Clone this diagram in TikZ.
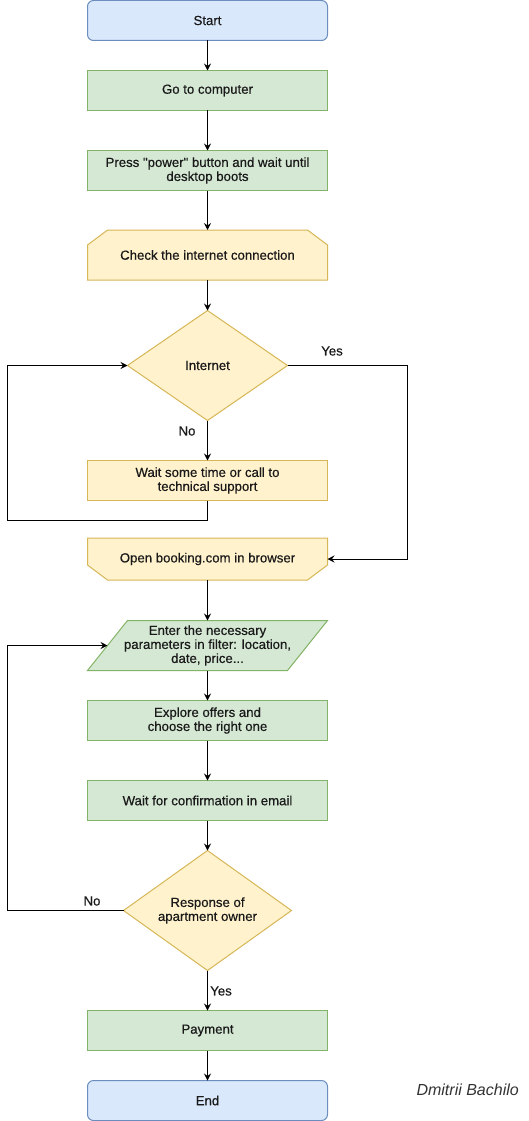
\documentclass[tikz,border=0pt]{standalone}
\usepackage{fontspec}
\setmainfont{Liberation Sans}
\newfontfamily\lblfont[FakeBold=0.5]{Liberation Sans}
\usetikzlibrary{arrows.meta,calc,backgrounds,shapes.geometric}
\definecolor{bfill}{HTML}{DAE8FC}\definecolor{bdraw}{HTML}{6C8EBF}
\definecolor{gfill}{HTML}{D5E8D4}\definecolor{gdraw}{HTML}{82B366}
\definecolor{yfill}{HTML}{FFF2CC}\definecolor{ydraw}{HTML}{D6B656}
\definecolor{txt}{HTML}{1A1A1A}
\definecolor{authorc}{HTML}{333333}
\begin{document}
\begin{tikzpicture}[x=1pt,y=-1pt,
  base/.style={font=\lblfont\fontsize{13.2}{14}\selectfont, text=txt, align=center, inner sep=0pt, outer sep=0pt, line width=1pt},
  term/.style={base, draw=bdraw, fill=bfill, rounded corners=6pt, minimum width=240pt, minimum height=40pt},
  proc/.style={base, draw=gdraw, fill=gfill, minimum width=240pt, minimum height=40pt},
  yproc/.style={base, draw=ydraw, fill=yfill, minimum width=240pt, minimum height=40pt},
  shapebox/.style={base, minimum width=240pt},
  decision/.style={base, diamond, aspect=1.4, draw=ydraw, fill=yfill},
  yshape/.style={draw=ydraw, fill=yfill, line width=1pt},
  gshape/.style={draw=gdraw, fill=gfill, line width=1pt},
  conn/.style={line width=1pt, draw=black, -{Stealth[length=7pt,width=7pt,inset=2.5pt]}},
  lbl/.style={font=\lblfont\fontsize{13.2}{14}\selectfont, text=txt, inner sep=0pt}
]
\useasboundingbox (0,0) rectangle (528,1121);

\node[term] (start) at (207.5,20.5) {Start};
\node[proc] (go) at (207.5,90.5) {Go to computer};
\node[proc] (press) at (207.5,170.5) {Press "power" button and wait until\\desktop boots};
\node[shapebox, minimum height=50pt] (check) at (207.5,255) {Check the internet connection};
\node[decision, minimum width=160pt, minimum height=110pt] (inet) at (207.5,365.5) {Internet};
\node[yproc] (wait) at (207.5,480.5) {Wait some time or call to\\technical support};
\node[shapebox, minimum height=42pt] (book) at (207.5,559) {Open booking.com in browser};
\node[shapebox, minimum height=50pt] (enter) at (207.5,645.5) {Enter the necessary\\parameters in filter: location,\\date, price...};
\node[proc] (explore) at (207.5,720.5) {Explore offers and\\choose the right one};
\node[proc] (confirm) at (207.5,800.5) {Wait for confirmation in email};
\node[decision, minimum width=168pt, minimum height=120pt] (resp) at (207.5,910.5) {Response of\\apartment owner};
\node[proc] (pay) at (207.5,1030.5) {Payment};
\node[term] (end) at (207.5,1100.5) {End};

\node[font=\fontsize{16}{18}\selectfont\itshape, text=authorc, anchor=east, inner sep=0pt] (author) at (519,1090) {Dmitrii Bachilo};

\begin{scope}[on background layer]
  \filldraw[yshape] ($(check.north west)+(20,0)$) -- ($(check.north east)+(-20,0)$) -- ($(check.north east)+(0,15)$) -- (check.south east) -- (check.south west) -- ($(check.north west)+(0,15)$) -- cycle;
  \filldraw[yshape] (book.north west) -- (book.north east) -- ($(book.south east)+(0,-15)$) -- ($(book.south east)+(-20,0)$) -- ($(book.south west)+(20,0)$) -- ($(book.south west)+(0,-15)$) -- cycle;
  \filldraw[gshape] ($(enter.north west)+(40,0)$) -- (enter.north east) -- ($(enter.south east)+(-40,0)$) -- (enter.south west) -- cycle;
\end{scope}

\coordinate (enterW) at ($(enter.west)+(20,0)$);
\coordinate (leftrail) at (7.5,0);
\coordinate (rightrail) at (407.5,0);

\draw[conn] (start) -- (go);
\draw[conn] (go) -- (press);
\draw[conn] (press) -- (check);
\draw[conn] (check) -- (inet);
\draw[conn] (inet) -- (wait);
\draw[conn] (wait.south) -- ++(0,20) -| (leftrail |- inet.west) -- (inet.west);
\draw[conn] (inet.east) -| (rightrail |- book.east) -- (book.east);
\draw[conn] (book) -- (enter);
\draw[conn] (enter) -- (explore);
\draw[conn] (explore) -- (confirm);
\draw[conn] (confirm) -- (resp);
\draw[conn] (resp.west) -| (leftrail |- enterW) -- (enterW);
\draw[conn] (resp) -- (pay);
\draw[conn] (pay) -- (end);

\node[lbl] (yes1) at (332,351) {Yes};
\node[lbl] (no1) at (187,431) {No};
\node[lbl] (no2) at (92,901) {No};
\node[lbl] (yes2) at (221,991) {Yes};
\end{tikzpicture}
\end{document}
